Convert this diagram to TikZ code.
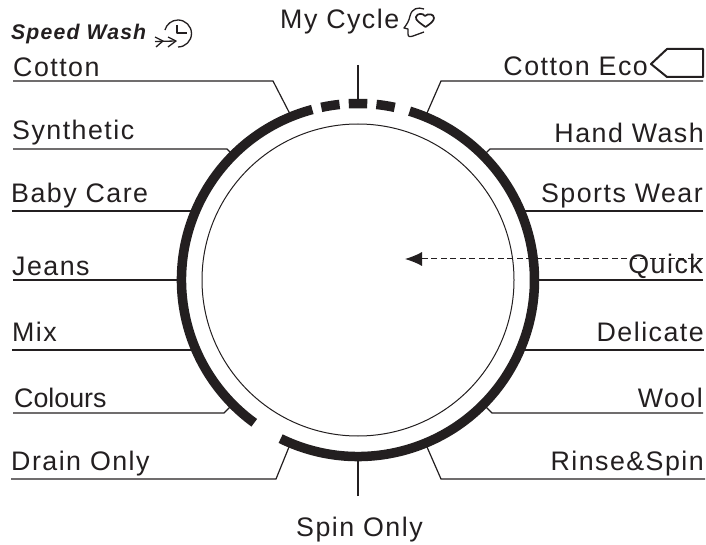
\documentclass[tikz,border=0pt]{standalone}
\usepackage{fontspec}
\usepackage{xcolor}
\usetikzlibrary{arrows.meta}
\setmainfont[LetterSpace=5.5]{Liberation Sans}
\newfontfamily\tightfont{Liberation Sans}
\definecolor{dialink}{HTML}{231F20}
\tikzset{
  progleft/.style={anchor=base west, inner sep=0pt, text=dialink, font=\fontsize{26.8}{28}\selectfont},
  progright/.style={anchor=base east, inner sep=0pt, text=dialink, font=\fontsize{26.8}{28}\selectfont},
  leader/.style={draw=dialink, line width=1.2pt},
  ring/.style={draw=dialink, line width=9.5pt},
  icon/.style={draw=dialink, line width=1.3pt, line join=round}
}
\begin{document}
\begin{tikzpicture}[x=1pt, y=1pt]
  \useasboundingbox (0,0) rectangle (706,544);

  % dial
  \coordinate (dial) at (358,264);
  \draw[dialink, line width=1pt] (dial) circle (156);
  \draw[ring] (dial) ++(105:176.5) arc (105:234:176.5);
  \draw[ring] (dial) ++(244:176.5) arc (244:433:176.5);
  \draw[ring] (dial) ++(87:176.5) arc (87:93:176.5);
  \draw[ring] (dial) ++(96:176.5) arc (96:102:176.5);
  \draw[ring] (dial) ++(78:176.5) arc (78:84:176.5);

  % left programmes
  \node[progleft] (speed) at (11,504) {\fontsize{21.2}{22}\selectfont\bfseries\itshape Speed Wash};
  \node[progleft] (cotton) at (13,467) {Cotton};
  \node[progleft] (synthetic) at (12,404) {Synthetic};
  \node[progleft] (babycare) at (11,341) {Baby Care};
  \node[progleft] (jeans) at (12,269) {Jeans};
  \node[progleft] (mix) at (12,203) {Mix};
  \node[progleft] (colours) at (14,137) {\tightfont Colours};
  \node[progleft] (drainonly) at (11,74) {Drain Only};

  % right programmes
  \node[progright] (cottoneco) at (648,468) {Cotton Eco};
  \node[progright] (handwash) at (704,401) {Hand Wash};
  \node[progright] (sportswear) at (703,341) {Sports Wear};
  \node[progright] (quick) at (703,270) {Quick};
  \node[progright] (delicate) at (704,203) {Delicate};
  \node[progright] (wool) at (703,137) {Wool};
  \node[progright] (rinsespin) at (704,74) {Rinse\&Spin};

  % top and bottom
  \node[progleft] (mycycle) at (280,515) {My Cycle};
  \node[progleft] (spinonly) at (296,8) {Spin Only};

  % leader ends
  \coordinate (cottonA) at (13,463);
  \coordinate (cottonB) at (273,463);
  \coordinate (cottonC) at (290,430);
  \coordinate (syntheticA) at (13,395);
  \coordinate (syntheticB) at (227,395);
  \coordinate (syntheticC) at (233,389);
  \coordinate (babycareA) at (12,333);
  \coordinate (babycareB) at (192,333);
  \coordinate (jeansA) at (13,264);
  \coordinate (jeansB) at (178,264);
  \coordinate (mixA) at (12,194);
  \coordinate (mixB) at (192,194);
  \coordinate (coloursA) at (13,131);
  \coordinate (coloursB) at (224,131);
  \coordinate (coloursC) at (231,138);
  \coordinate (drainA) at (11,65);
  \coordinate (drainB) at (276,65);
  \coordinate (drainC) at (289,97);
  \coordinate (ecoA) at (703,463);
  \coordinate (ecoB) at (441,463);
  \coordinate (ecoC) at (427,431);
  \coordinate (handA) at (703,395);
  \coordinate (handB) at (490,395);
  \coordinate (handC) at (484,389);
  \coordinate (sportsA) at (703,333);
  \coordinate (sportsB) at (524,333);
  \coordinate (quickA) at (703,264);
  \coordinate (quickB) at (538,264);
  \coordinate (delicateA) at (704,194);
  \coordinate (delicateB) at (524,194);
  \coordinate (woolA) at (703,131);
  \coordinate (woolB) at (492,131);
  \coordinate (woolC) at (485,138);
  \coordinate (rinseA) at (705,65);
  \coordinate (rinseB) at (441,65);
  \coordinate (rinseC) at (427,97);
  \coordinate (topA) at (358,479);
  \coordinate (topB) at (358,445);
  \coordinate (spinA) at (358,48);
  \coordinate (spinB) at (358,83);

  \draw[leader] (cottonA) -- (cottonB) -- (cottonC);
  \draw[leader] (syntheticA) -- (syntheticB) -- (syntheticC);
  \draw[leader] (babycareA) -- (babycareB);
  \draw[leader] (jeansA) -- (jeansB);
  \draw[leader] (mixA) -- (mixB);
  \draw[leader] (coloursA) -- (coloursB) -- (coloursC);
  \draw[leader] (drainA) -- (drainB) -- (drainC);
  \draw[leader] (ecoA) -- (ecoB) -- (ecoC);
  \draw[leader] (handA) -- (handB) -- (handC);
  \draw[leader] (sportsA) -- (sportsB);
  \draw[leader] (quickA) -- (quickB);
  \draw[leader] (delicateA) -- (delicateB);
  \draw[leader] (woolA) -- (woolB) -- (woolC);
  \draw[leader] (rinseA) -- (rinseB) -- (rinseC);
  \draw[leader] (topA) -- (topB);
  \draw[leader] (spinA) -- (spinB);

  % door handle arrow
  \coordinate (quicktail) at (703,285);
  \coordinate (quicktip) at (405,285);
  \draw[dialink, line width=1pt, dash pattern=on 6pt off 3.5pt, -{Latex[length=17pt, width=14pt]}] (quicktail) -- (quicktip);

  % speed wash icon
  \draw[icon] (178,497) arc (-90:165:13.5);
  \draw[icon] (177,519) -- (177,511) -- (187,511);
  \draw[icon] (155,502.5) -- (176,503);
  \draw[icon] (155,507) -- (163,503) -- (156,497);
  \draw[icon] (168,507) -- (176,503) -- (168,497);

  % my cycle icon
  \draw[icon] (424,535) .. controls (418,537) and (412,536) .. (410,528) .. controls (409,523) and (407,520) .. (404,516) -- (408,515) -- (408,510) .. controls (408,507) and (410,507) .. (413,508) -- (424,512);
  \draw[icon, line width=1.7pt] (425.5,517) .. controls (420,521) and (415,524) .. (416,527) .. controls (417,531) and (423,531) .. (425,528) .. controls (428,531) and (434,530) .. (434,526) .. controls (434,523) and (430,520) .. (425.5,517) -- cycle;

  % cotton eco icon
  \draw[icon, line width=2pt] (651,480) -- (667,495) -- (703,495) -- (703,467) -- (667,467) -- cycle;

\end{tikzpicture}
\end{document}
